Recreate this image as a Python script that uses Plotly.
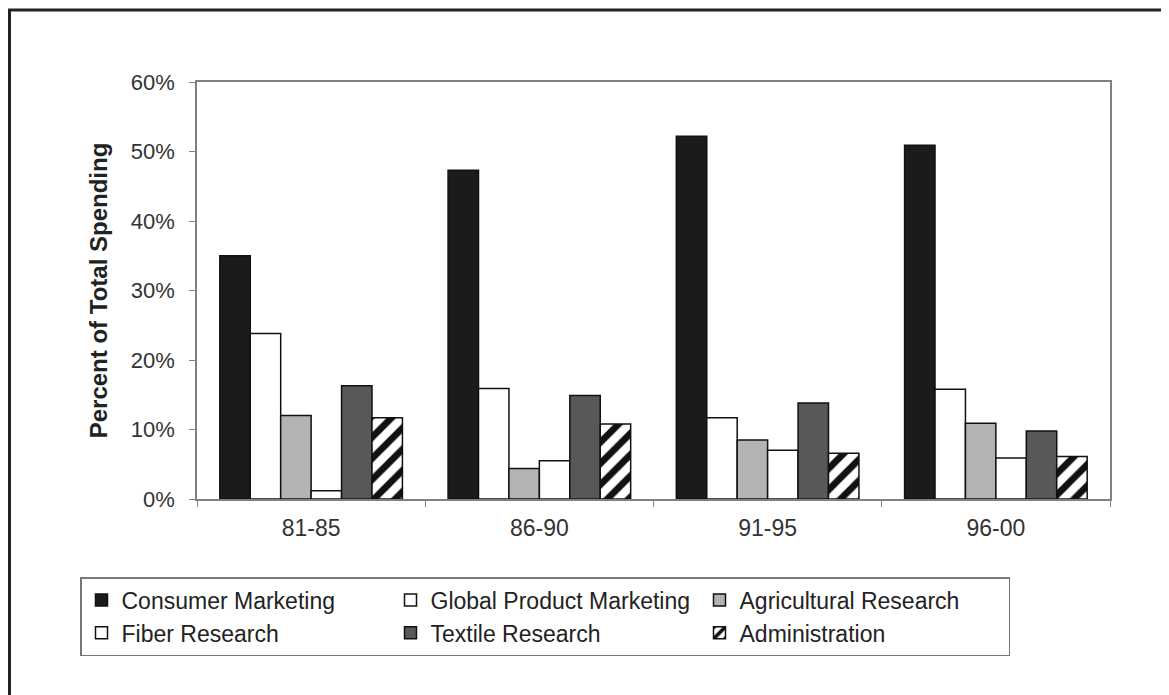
import plotly.graph_objects as go

periods = ["81-85", "86-90", "91-95", "96-00"]

consumer_marketing = [35.0, 47.3, 52.2, 50.9]
global_product_marketing = [23.8, 15.9, 11.7, 15.8]
agricultural_research = [12.0, 4.4, 8.5, 10.9]
fiber_research = [1.2, 5.5, 7.0, 5.9]
textile_research = [16.3, 14.9, 13.8, 9.8]
administration = [11.7, 10.8, 6.6, 6.1]

series = [
    ("Consumer Marketing", consumer_marketing, "#1b1b1b", None),
    ("Global Product Marketing", global_product_marketing, "#ffffff", None),
    ("Agricultural Research", agricultural_research, "#b3b3b3", None),
    ("Fiber Research", fiber_research, "#ffffff", None),
    ("Textile Research", textile_research, "#585858", None),
    ("Administration", administration, "#ffffff", "/"),
]

fig = go.Figure()
for name, vals, color, pat in series:
    marker = dict(color=color, line=dict(color="#111111", width=1.5))
    if pat:
        marker["pattern"] = dict(shape=pat, fgcolor="#111111", bgcolor="#ffffff",
                                 size=15, solidity=0.45, fillmode="replace")
    fig.add_trace(go.Bar(name=name, x=periods, y=vals, marker=marker))

# page pixel targets (page body has an 8px margin)
OFF = 8
PL, PR, PT, PB = 197, 1110, 82, 499
W, H = 1169 - OFF, 695 - OFF
L, T = PL - OFF, PT - OFF
R, B = W - (PR - OFF), H - (PB - OFF)
pw, ph = PR - PL, PB - PT

font = "Liberation Sans, Arial, sans-serif"

fig.update_layout(
    width=W, height=H,
    margin=dict(l=L, r=R, t=T, b=B, pad=0),
    paper_bgcolor="white", plot_bgcolor="white",
    barmode="group", bargap=0.2, bargroupgap=0,
    font=dict(family=font, color="#333333", size=22),
    xaxis=dict(
        showline=True, linecolor="#808080", linewidth=1.5, mirror=True,
        ticks="outside", tickson="boundaries", ticklen=6, tickcolor="#808080",
        tickfont=dict(size=23, color="#333333"), showgrid=False, ticklabelstandoff=8,
    ),
    yaxis=dict(
        range=[0, 60], dtick=10, ticksuffix="%",
        showline=True, linecolor="#808080", linewidth=1.5, mirror=True,
        ticks="outside", ticklen=6, tickcolor="#808080", ticklabelstandoff=10,
        tickfont=dict(size=22, color="#333333"), showgrid=False, zeroline=False,
        title=dict(text="<b>Percent of Total Spending</b>", font=dict(size=24, color="#222222"), standoff=16),
    ),
    yaxis2=dict(
        range=[0, 60], dtick=30, overlaying="y", showgrid=True, gridcolor="#8a8a8a",
        gridwidth=1.2, showticklabels=False, zeroline=False, showline=False, ticks="",
    ),
    legend=dict(
        orientation="h", x=(80 - PL) / pw, y=(PB - 577) / ph, xanchor="left", yanchor="top",
        bordercolor="#777777", borderwidth=1.5, bgcolor="white",
        font=dict(size=23, color="#222222"), entrywidth=264, traceorder="normal",
    ),
    shapes=[dict(
        type="rect", xref="paper", yref="paper",
        x0=(9.5 - PL) / pw, x1=(1169 + 20 - PL) / pw, y0=(PB - 720) / ph, y1=(PB - 10) / ph,
        line=dict(color="#222222", width=3), fillcolor="rgba(0,0,0,0)", layer="below",
    )],
)

fig.write_html("out.html")
